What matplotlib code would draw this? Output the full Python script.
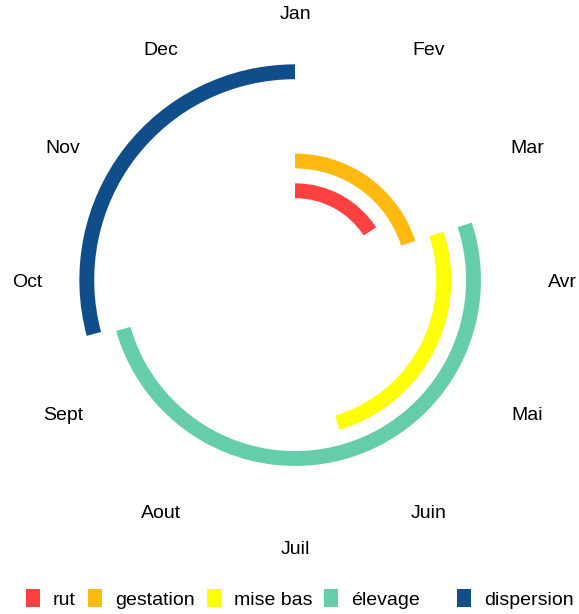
import numpy as np
import matplotlib.pyplot as plt
from matplotlib.patches import Patch

plt.rcParams['font.family'] = ['Liberation Sans', 'DejaVu Sans']

# calendrier des phases (en mois, 1 = debut janvier, 13 = fin decembre)
phases = ["rut", "gestation", "mise bas", "élevage", "dispersion"]
debut = [1.0, 1.0, 3.4, 3.4, 9.5]
fin = [2.9, 3.4, 6.45, 9.47, 13.0]
niveau = [1, 2, 3, 4, 5]
couleurs = ["#FF4040", "#FFB90F", "#FFFF00", "#66CDAA", "#104E8B"]

mois = ["Jan", "Fev", "Mar", "Avr", "Mai", "Juin",
        "Juil", "Aout", "Sept", "Oct", "Nov", "Dec"]


def vers_angle(m):
    return (np.asarray(m) - 1) / 12 * 2 * np.pi


fig = plt.figure(figsize=(5.79, 6.14), dpi=100)
ax = fig.add_axes([0.0471, 0.1079, 0.9249, 0.8721], projection='polar')
ax.set_theta_zero_location('N')
ax.set_theta_direction(-1)
ax.set_ylim(-2, 7)
ax.set_axis_off()

for nom, d, f, n, c in zip(phases, debut, fin, niveau, couleurs):
    t0, t1 = vers_angle(d), vers_angle(f)
    ax.bar((t0 + t1) / 2, 0.5, width=t1 - t0, bottom=n - 0.25,
           color=c, edgecolor='none', linewidth=0)

for i, m in enumerate(mois):
    ax.text(vers_angle(i + 1), 7, m, ha='center', va='center_baseline',
            fontsize=14, color='black', clip_on=False)

# legende en bas : les quatre premieres cles serrees, "dispersion" un peu plus loin
poignees = [Patch(facecolor=c, edgecolor='none', label=p)
            for p, c in zip(phases, couleurs)]
opts = dict(loc='center left', frameon=False, fontsize=14, handlelength=0.72,
            handleheight=1.05, handletextpad=0.67, columnspacing=0.62,
            borderaxespad=0, borderpad=0)
y_leg = 1 - 599 / 614
fig.legend(handles=poignees[:4], ncol=4, bbox_to_anchor=(26 / 579, y_leg), **opts)
fig.legend(handles=poignees[4:], ncol=1, bbox_to_anchor=(457 / 579, y_leg), **opts)

fig.savefig("out.png", dpi=100)
